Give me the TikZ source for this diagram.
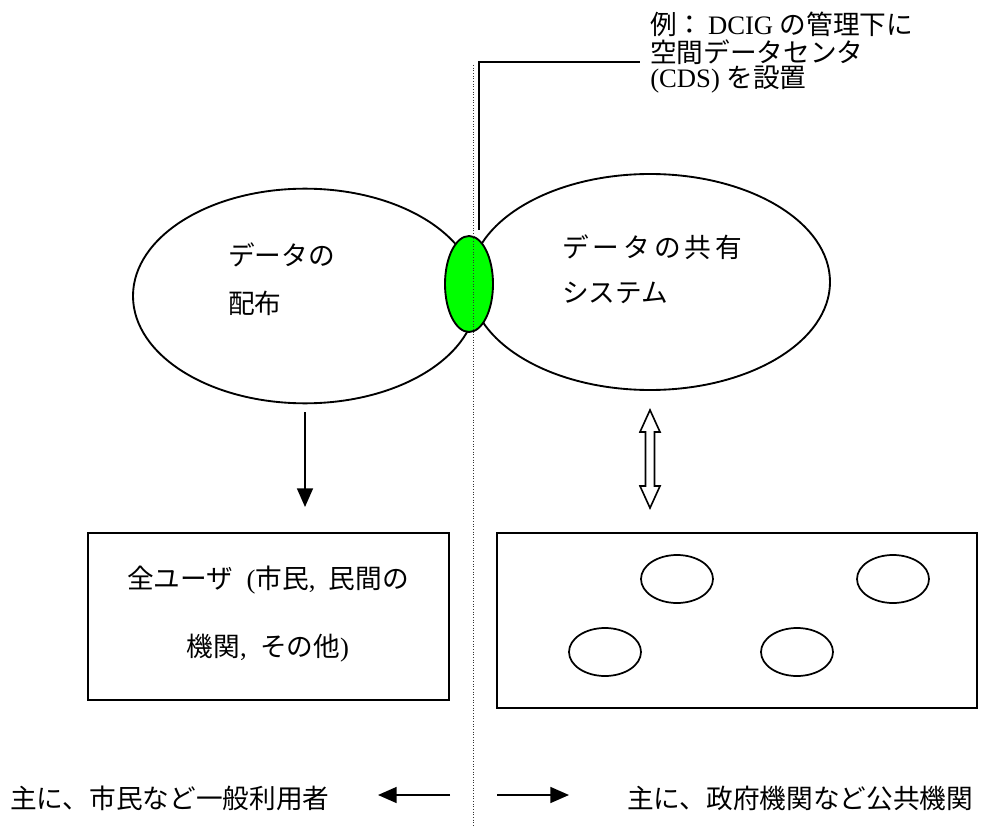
\documentclass[tikz,border=0pt]{standalone}
\usepackage{fontspec}
\setmainfont{Liberation Serif}
\newfontfamily\jp{Noto Sans CJK JP}
\newfontfamily\jpsp[LetterSpace=15]{Noto Sans CJK JP}
\usetikzlibrary{shapes.geometric,arrows.meta}
\begin{document}
\begin{tikzpicture}[x=0.75pt,y=-0.75pt,
  blob/.style={ellipse,draw,line width=1.4pt,inner sep=0pt},
  smallblob/.style={ellipse,draw,line width=1.3pt,inner sep=0pt,minimum width=54pt,minimum height=36pt},
  boxframe/.style={draw,line width=1.7pt},
  txt/.style={inner sep=0pt,font=\fontsize{20pt}{24pt}\selectfont},
  leader/.style={line width=1.2pt},
  arr/.style={line width=1.2pt,-{Triangle[length=14pt,width=12pt]}},
  divider/.style={line width=0.7pt,dash pattern=on 0.8pt off 1.2pt,black!80}
]
\useasboundingbox (0,0) rectangle (988,827);

% big ellipses
\node[blob,minimum width=258pt,minimum height=161pt] (L) at (305,296) {};
\node[blob,minimum width=270pt,minimum height=162pt] (R) at (650,282) {};
% green connector ellipse
\node[blob,fill={rgb,255:red,0;green,255;blue,0},minimum width=36pt,minimum height=72pt] (G) at (469,284) {};

% dividing dotted line
\coordinate (dtop) at (473,65);
\coordinate (dbot) at (473,827);
\draw[divider] (dtop) -- (dbot);

% leader line to annotation
\coordinate (l1) at (479,230);
\coordinate (l2) at (479,62);
\coordinate (l3) at (640,62);
\draw[leader] (l1) -- (l2) -- (l3);

% annotation text
\node[txt,anchor=west] (n1) at (650,24) {{\jp 例：}\,DCIG {\jp の管理下に}};
\node[txt,anchor=west] (n2) at (650,52) {\jp 空間データセンタ};
\node[txt,anchor=west] (n3) at (650,80) {(CDS) {\jp を設置}};

% ellipse texts
\node[txt,anchor=west] (lt1) at (228,255) {\jp データの};
\node[txt,anchor=west] (lt2) at (228,303) {\jp 配布};
\node[txt,anchor=west] (rt1) at (562,247) {\jpsp データの共有};
\node[txt,anchor=west] (rt2) at (562,293) {\jp システム};

% down arrow
\coordinate (da1) at (305,412);
\coordinate (da2) at (305,507);
\draw[arr] (da1) -- (da2);

% hollow double arrow
\draw[line width=1.2pt,line join=miter,fill=white]
  (650,410) -- (660,432) -- (654.5,432) -- (654.5,486) -- (660,486) -- (650,508)
  -- (640,486) -- (645.5,486) -- (645.5,432) -- (640,432) -- cycle;

% boxes
\draw[boxframe] (88,533) rectangle (449,700);
\node[txt] (bt1) at (268,580) {{\jp 全ユーザ}\enspace({\jp 市民},\enspace{\jp 民間の}};
\node[txt] (bt2) at (268,648) {{\jp 機関},\enspace{\jp その他})};

\draw[boxframe] (497,533) rectangle (977,708);
\node[smallblob] (s1) at (677,579) {};
\node[smallblob] (s2) at (893,579) {};
\node[smallblob] (s3) at (605,652) {};
\node[smallblob] (s4) at (797,652) {};

% bottom legend
\coordinate (la1) at (450,795);
\coordinate (la2) at (378,795);
\draw[arr] (la1) -- (la2);
\coordinate (ra1) at (497,795);
\coordinate (ra2) at (569,795);
\draw[arr] (ra1) -- (ra2);
\node[txt,anchor=west] (bl) at (10,798) {\jp 主に、市民など一般利用者};
\node[txt,anchor=west] (br) at (627,798) {\jp 主に、政府機関など公共機関};
\end{tikzpicture}
\end{document}
